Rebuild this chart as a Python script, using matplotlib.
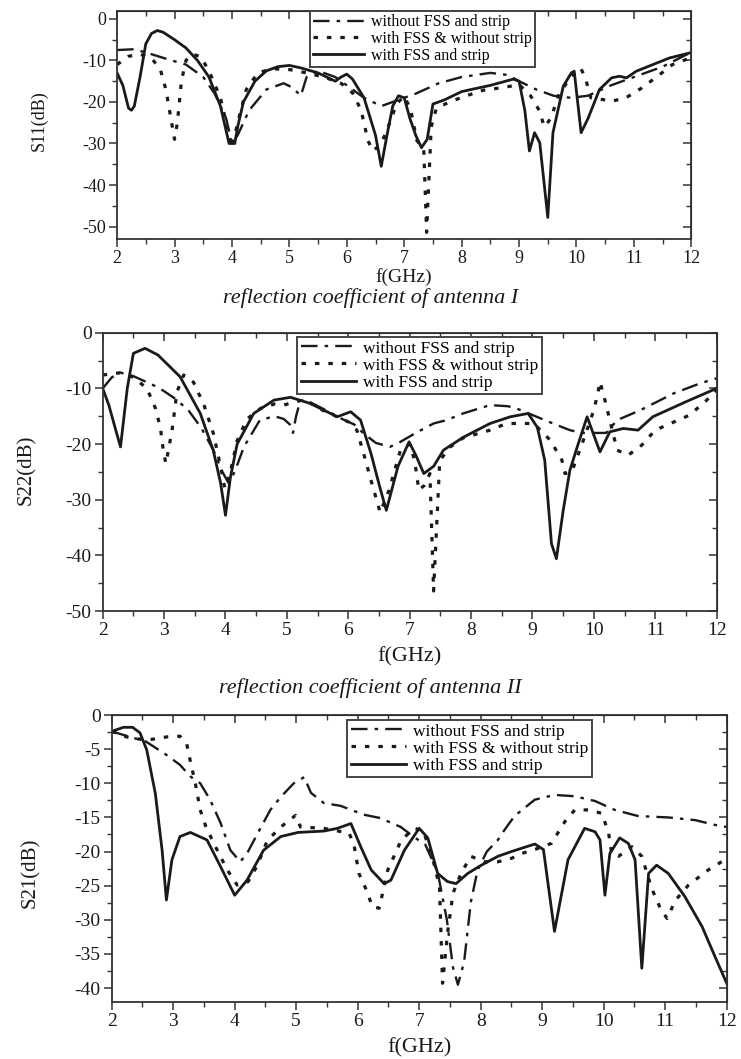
import numpy as np
import matplotlib
matplotlib.use("Agg")
import matplotlib.pyplot as plt
from matplotlib.ticker import MultipleLocator

# -----------------------------------
# Data
# -----------------------------------

labels = ["without FSS and strip", "with FSS & without strip", "with FSS and strip"]

# antenna I, S11
s11_nofss_f = [2.0, 2.3, 2.6, 2.9, 3.2, 3.5, 3.7, 3.9, 4.0, 4.1, 4.3, 4.6, 4.9, 5.05, 5.2,
               5.3, 5.5, 5.8, 6.0, 6.3, 6.6, 6.8, 7.0, 7.2, 7.6, 8.0, 8.5, 8.8, 9.0, 9.3,
               9.6, 9.9, 10.2, 10.6, 11.0, 11.5, 12.0]
s11_nofss = [-7.5, -7.3, -8.5, -9.8, -11, -14, -18, -24, -30, -28, -22, -17, -15.5, -16.5, -18.5,
             -14, -12.5, -14, -16, -19, -21, -20, -19, -18, -15.5, -14, -13, -13.5, -15, -17,
             -18.5, -19, -18.5, -16, -14, -11.5, -8]

s11_fss_f = [2.0, 2.2, 2.4, 2.6, 2.75, 2.85, 2.95, 3.0, 3.05, 3.12, 3.2, 3.3, 3.45, 3.6, 3.8,
             3.9, 4.0, 4.1, 4.25, 4.45, 4.7, 5.0, 5.3, 5.6, 5.9, 6.1, 6.25, 6.37, 6.46, 6.6,
             6.72, 6.87, 7.0, 7.11, 7.22, 7.34, 7.39, 7.47, 7.56, 7.79, 8.02, 8.37, 8.78, 9.0,
             9.2, 9.35, 9.44, 9.55, 9.7, 9.9, 10.07, 10.15, 10.25, 10.45, 10.62, 10.86, 11.14,
             11.45, 11.67, 12.0]
s11_fss = [-11, -9, -8.5, -9.5, -12, -17, -25, -29, -25, -15, -10, -8.5, -9, -12.5, -19,
           -25, -31, -25, -17, -13, -12, -12.2, -13, -14, -15.5, -17.8, -22, -29.4, -31.8, -30,
           -26, -20.4, -18.6, -21.7, -29.3, -31.3, -51.4, -26, -21.5, -20, -18.8, -17.2, -16.4, -15.8,
           -18.5, -22, -26, -24, -18, -14, -11.8, -14, -19, -19.4, -19.8, -19, -16.6,
           -13.4, -11, -9.3]

s11_strip_f = [2.0, 2.1, 2.2, 2.25, 2.3, 2.4, 2.5, 2.6, 2.7, 2.8, 3.0, 3.2, 3.4, 3.6, 3.8,
               3.9, 3.95, 4.05, 4.1, 4.2, 4.4, 4.6, 4.8, 5.0, 5.2, 5.5, 5.8, 5.9, 6.0, 6.1,
               6.3, 6.5, 6.6, 6.7, 6.8, 6.9, 7.0, 7.1, 7.2, 7.3, 7.4, 7.5, 7.7, 8.0, 8.5,
               8.9, 9.0, 9.1, 9.18, 9.27, 9.36, 9.5, 9.59, 9.77, 9.91, 9.96, 10.08, 10.2, 10.4,
               10.61, 10.75, 10.87, 11.04, 11.33, 11.62, 12.0]
s11_strip = [-13, -16, -21.5, -22, -21, -14, -6, -3.5, -2.8, -3.2, -5, -7, -10, -14, -21,
             -27, -30, -30, -26, -20, -15, -12.5, -11.5, -11.2, -11.8, -13, -15, -14, -13.3, -14.5,
             -19, -28, -35.5, -28, -21, -18.5, -19, -24, -28, -31, -29, -20.5, -19.5, -17.5, -16,
             -14.5, -15, -22, -31.8, -27.4, -29.8, -47.8, -27.4, -16.2, -13, -12.6, -27.4, -24, -17,
             -14.2, -13.8, -14.2, -12.6, -11, -9.4, -8.1]

# antenna II, S22
s22_nofss_f = [2.0, 2.15, 2.3, 2.5, 2.7, 2.88, 3.0, 3.2, 3.4, 3.6, 3.8, 3.95, 4.05, 4.15, 4.3,
               4.56, 4.8, 4.95, 5.05, 5.1, 5.15, 5.22, 5.4, 5.65, 5.9, 6.1, 6.25, 6.45, 6.68,
               6.85, 7.1, 7.39, 7.6, 7.87, 8.31, 8.6, 8.74, 9.07, 9.4, 9.61, 9.8, 10.0, 10.2,
               10.38, 10.76, 11.3, 11.73, 12.0]
s22_nofss = [-10, -8, -7.2, -7.8, -8.8, -9.7, -10.5, -12, -14, -17, -21, -25, -27, -25, -20.5,
             -15.7, -15, -15.5, -16.5, -18, -15, -12.1, -12.6, -14, -15.5, -16.5, -18.1, -19.8, -20.5,
             -19.6, -18, -16.3, -15.7, -14.5, -13.0, -13.2, -13.6, -15.1, -16.6, -17.5, -18, -18, -18,
             -15.7, -13.9, -10.9, -9.1, -8.2]

s22_fss_f = [2.0, 2.28, 2.5, 2.72, 2.86, 2.94, 2.99, 3.03, 3.13, 3.21, 3.32, 3.48, 3.65, 3.8,
             3.92, 3.99, 4.08, 4.19, 4.35, 4.57, 4.8, 4.95, 5.1, 5.3, 5.5, 5.8, 6.0, 6.14, 6.25,
             6.37, 6.52, 6.66, 6.85, 7.0, 7.08, 7.15, 7.24, 7.33, 7.39, 7.49, 7.65, 7.87, 8.31,
             8.58, 9.02, 9.29, 9.48, 9.53, 9.64, 9.85, 10.0, 10.07, 10.1, 10.19, 10.26, 10.38,
             10.56, 10.78, 11.0, 11.56, 11.84, 12.0]
s22_fss = [-7.6, -7.2, -8, -10, -13.6, -17.1, -21.4, -23.5, -17.5, -10.6, -7.6, -8.9, -13, -18,
           -24, -28, -25, -19.4, -15.5, -13.6, -12.8, -13, -12.5, -12, -13.5, -15, -16, -17.5, -21.7,
           -26.5, -32.3, -28.4, -21.1, -20, -22.9, -28.3, -27.4, -25.3, -46.4, -23, -20.6, -18.9, -17.5,
           -16.3, -16.3, -19.3, -22.9, -25.3, -25, -18.7, -13.9, -10.6, -8.8, -12.5, -15.7, -21.1,
           -22, -20.2, -17.5, -14.8, -12.1, -10.3]

s22_strip_f = [2.0, 2.1, 2.2, 2.29, 2.4, 2.5, 2.69, 2.9, 3.26, 3.59, 3.8, 3.92, 4.0, 4.08, 4.19,
               4.46, 4.79, 5.06, 5.38, 5.6, 5.82, 6.04, 6.2, 6.37, 6.52, 6.62, 6.81, 6.99, 7.1,
               7.23, 7.39, 7.55, 7.87, 8.31, 8.64, 8.93, 9.08, 9.2, 9.31, 9.39, 9.5, 9.61, 9.73,
               9.89, 10.1, 10.26, 10.48, 10.72, 10.96, 11.5, 12.0]
s22_strip = [-10, -13, -17, -20.5, -10, -3.7, -2.8, -4, -7.9, -14.5, -21.1, -27, -32.8, -26, -20,
             -14.5, -12.1, -11.6, -12.7, -13.9, -15.1, -14.2, -15.7, -21.7, -28, -31.9, -24, -19.6, -22,
             -25.3, -24, -21.1, -18.8, -16.3, -15.1, -14.5, -17, -22.9, -37.9, -40.6, -32, -24.7, -20.5,
             -15.1, -21.4, -17.8, -17.2, -17.5, -15.1, -12.4, -10]

# transmission, S21
s21_nofss_f = [2.0, 2.3, 2.56, 2.9, 3.11, 3.28, 3.44, 3.6, 3.77, 3.93, 4.09, 4.2, 4.37, 4.58,
               4.75, 4.96, 5.13, 5.24, 5.45, 5.72, 6.1, 6.37, 6.7, 6.92, 7.1, 7.3, 7.45, 7.55,
               7.63, 7.73, 7.84, 7.95, 8.1, 8.28, 8.39, 8.55, 8.88, 9.2, 9.53, 9.86, 10.18,
               10.56, 11.05, 11.49, 11.81, 12.0]
s21_nofss = [-2.4, -3.2, -3.9, -5.9, -7.3, -9.0, -10, -12.4, -15.8, -19.8, -21.5, -20.3, -17.4, -13.9,
             -12, -10, -9.1, -11.4, -12.9, -13.3, -14.6, -15.1, -16.4, -17.9, -19, -23, -30, -37,
             -39.5, -36.2, -27.4, -22.7, -20, -18.3, -16.8, -14.8, -12.4, -11.7, -11.9, -12.6, -13.9,
             -14.8, -15.0, -15.4, -16.1, -16.4]

s21_fss_f = [2.0, 2.24, 2.56, 2.9, 3.11, 3.22, 3.28, 3.36, 3.44, 3.53, 3.66, 3.88, 4.04, 4.22,
             4.37, 4.53, 4.75, 4.99, 5.07, 5.45, 5.86, 5.94, 6.02, 6.14, 6.24, 6.35, 6.49, 6.71,
             6.92, 7.06, 7.2, 7.33, 7.38, 7.46, 7.55, 7.68, 7.84, 8.06, 8.28, 8.5, 8.66, 8.88,
             9.15, 9.37, 9.53, 9.75, 9.97, 10.08, 10.13, 10.24, 10.46, 10.62, 10.78, 10.92, 11.03,
             11.17, 11.38, 11.7, 11.97]
s21_fss = [-2.4, -3.2, -3.7, -3.2, -3.1, -4.2, -6.8, -10, -13.9, -16.3, -18.8, -22.7, -24.9, -24.4,
           -22, -18.4, -16.4, -14.7, -16.4, -16.6, -17.3, -19, -23.2, -25.6, -28.1, -28.3, -22.7, -18.3,
           -16.6, -16.9, -20.3, -25.1, -39.3, -32, -26.1, -23.2, -20.7, -21.5, -21.5, -21, -20.3, -19.7,
           -18.8, -15.6, -13.9, -13.9, -14.4, -17.3, -20.3, -20.7, -19.3, -20.7, -25.4, -28.3, -29.8,
           -27.1, -24.9, -22.7, -21.2]

s21_strip_f = [2.0, 2.19, 2.34, 2.46, 2.57, 2.71, 2.82, 2.89, 2.98, 3.11, 3.28, 3.55, 3.77, 4.0,
               4.2, 4.47, 4.75, 5.03, 5.45, 5.67, 5.89, 6.05, 6.22, 6.43, 6.54, 6.76, 7.0, 7.14,
               7.3, 7.46, 7.6, 7.79, 8.01, 8.28, 8.5, 8.88, 9.02, 9.2, 9.42, 9.69, 9.86, 9.94,
               10.02, 10.1, 10.26, 10.4, 10.51, 10.62, 10.73, 10.86, 11.05, 11.32, 11.6, 11.81, 12.0]
s21_strip = [-2.4, -1.8, -1.8, -2.6, -5.1, -11.5, -19.8, -27.1, -21.2, -17.8, -17.2, -18.3, -22.2, -26.4,
             -24.2, -19.8, -17.8, -17.2, -17.0, -16.6, -15.9, -19.3, -22.7, -24.7, -24.2, -19.8, -16.6, -18,
             -23.2, -24.4, -24.7, -23.2, -22.0, -20.7, -20, -18.9, -19.7, -31.7, -21.2, -16.6, -17.1, -18.3,
             -26.4, -20.3, -18.0, -18.8, -21.2, -37.1, -23.2, -22.0, -23.2, -26.6, -31.0, -35.4, -39.3]

# -----------------------------------
# Style
# -----------------------------------

plt.rcParams["font.family"] = ["Liberation Serif", "DejaVu Serif"]
plt.rcParams["axes.unicode_minus"] = False

INK = "#1a1a1a"
DASHDOT = (0, (7, 3, 1.5, 3))
DOTTED = (0, (1.4, 2.8))

fig = plt.figure(figsize=(7.41, 10.59), dpi=100)

panels = [
    dict(rect=[0.158, 0.7743, 0.775, 0.2153], ylabel="S11(dB)", ylim=(-53, 1.9),
         ymaj=10, ymin=5, tfs=13, lfs=14, legfs=11.5, leg=(0.336, 1.0),
         xl=-0.128, yl=(-0.12, 0.52),
         series=[(s11_nofss_f, s11_nofss), (s11_fss_f, s11_fss), (s11_strip_f, s11_strip)]),
    dict(rect=[0.1386, 0.423, 0.8285, 0.2628], ylabel="S22(dB)", ylim=(-50, 0),
         ymaj=10, ymin=5, tfs=14, lfs=16, legfs=12.5, leg=(0.317, 0.985),
         xl=-0.128, yl=(-0.108, 0.507),
         series=[(s22_nofss_f, s22_nofss), (s22_fss_f, s22_fss), (s22_strip_f, s22_strip)]),
    dict(rect=[0.1507, 0.0541, 0.8300, 0.2707], ylabel="S21(dB)", ylim=(-42, 0),
         ymaj=5, ymin=2.5, tfs=14, lfs=16, legfs=12.5, leg=(0.383, 0.983),
         xl=-0.128, yl=(-0.117, 0.449),
         series=[(s21_nofss_f, s21_nofss), (s21_fss_f, s21_fss), (s21_strip_f, s21_strip)]),
]

styles = [
    dict(linestyle=DASHDOT, linewidth=1.7),
    dict(linestyle=DOTTED, linewidth=2.3),
    dict(linestyle="-", linewidth=2.0),
]

# -----------------------------------
# Plot
# -----------------------------------

for p in panels:
    ax = fig.add_axes(p["rect"])

    for (f, s), st, lab in zip(p["series"], styles, labels):
        ax.plot(f, s, color=INK, label=lab, **st)

    ax.set_xlim(2, 12)
    ax.set_ylim(*p["ylim"])
    ax.xaxis.set_major_locator(MultipleLocator(1))
    ax.xaxis.set_minor_locator(MultipleLocator(0.5))
    ax.yaxis.set_major_locator(MultipleLocator(p["ymaj"]))
    ax.yaxis.set_minor_locator(MultipleLocator(p["ymin"]))

    for sp in ax.spines.values():
        sp.set_linewidth(1.3)
        sp.set_color("#333333")

    ax.tick_params(which="both", direction="out", top=False, right=False,
                   labelsize=p["tfs"], colors="#333333", labelcolor=INK, pad=2)
    ax.tick_params(which="major", length=6, width=1.1)
    ax.tick_params(which="minor", length=3.5, width=1.0)

    # mirrored ticks pointing inward on top and right
    tx = ax.secondary_xaxis("top")
    tx.xaxis.set_major_locator(MultipleLocator(1))
    tx.xaxis.set_minor_locator(MultipleLocator(0.5))
    tx.tick_params(which="major", direction="in", length=6, width=1.1, labeltop=False, colors="#333333")
    tx.tick_params(which="minor", direction="in", length=3.5, width=1.0, colors="#333333")
    ry = ax.secondary_yaxis("right")
    ry.yaxis.set_major_locator(MultipleLocator(p["ymaj"]))
    ry.yaxis.set_minor_locator(MultipleLocator(p["ymin"]))
    ry.tick_params(which="major", direction="in", length=6, width=1.1, labelright=False, colors="#333333")
    ry.tick_params(which="minor", direction="in", length=3.5, width=1.0, colors="#333333")

    ax.set_xlabel("f(GHz)", fontsize=p["lfs"], color=INK)
    ax.set_ylabel(p["ylabel"], fontsize=p["lfs"] - 1, color=INK)
    ax.xaxis.set_label_coords(0.5, p["xl"])
    ax.yaxis.set_label_coords(*p["yl"])

    leg = ax.legend(loc="upper left", bbox_to_anchor=p["leg"], fontsize=p["legfs"],
                    frameon=True, fancybox=False, framealpha=1, edgecolor="#444444",
                    borderpad=0.2, labelspacing=0.05, handlelength=3.2, handletextpad=0.4,
                    borderaxespad=0)
    leg.get_frame().set_linewidth(1.4)

# -----------------------------------
# Captions
# -----------------------------------

fig.text(0.5, 1 - 298 / 1059, "reflection coefficient of antenna I", fontsize=16,
         style="italic", ha="center", va="center", color=INK)
fig.text(0.5, 1 - 688 / 1059, "reflection coefficient of antenna II", fontsize=16,
         style="italic", ha="center", va="center", color=INK)

fig.savefig("out.png", dpi=100)
plt.close(fig)
